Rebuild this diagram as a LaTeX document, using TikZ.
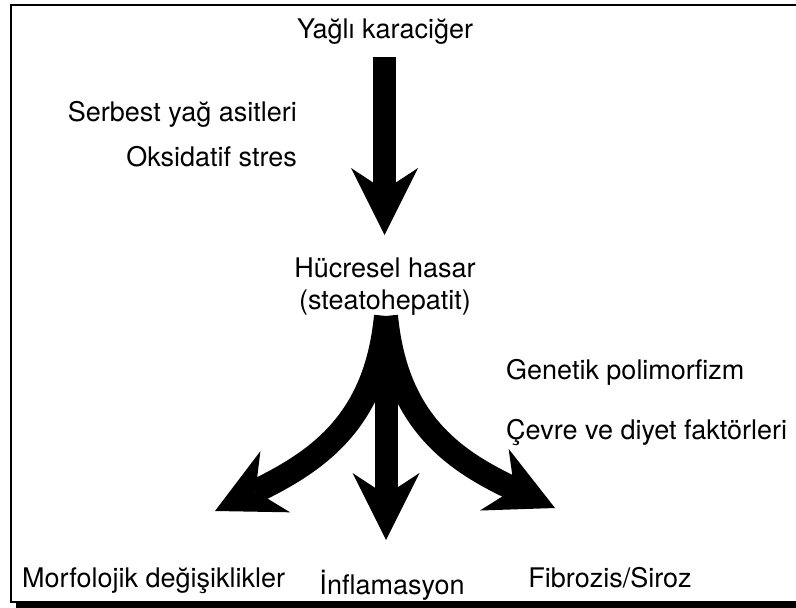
\documentclass[tikz,border=0pt]{standalone}
\usepackage{fontspec}
\setmainfont{TeX Gyre Heros}
\usetikzlibrary{arrows.meta}
\begin{document}
\begin{tikzpicture}[x=1pt,y=-1pt,
  lbl/.style={font=\fontsize{27}{32}\selectfont, inner sep=0pt},
  bigarrow/.style={line width=23pt, -{Stealth[length=67pt,width=67pt,inset=22pt,line width=0pt]}},
  curvearrow/.style={line width=24pt, -{Stealth[length=67pt,width=68pt,inset=22pt,line width=0pt]}},
  ]
\useasboundingbox (0,0) rectangle (796,608);
% frame with shadow
\fill[black] (16,10) rectangle (830,608);
\filldraw[fill=white, draw=black, line width=1.5pt] (11,5) rectangle (825,602);
% labels
\node[lbl, anchor=base] (top) at (385,38) {Yağlı karaciğer};
\node[lbl, anchor=base east] (ffa) at (297,121) {Serbest yağ asitleri};
\node[lbl, anchor=base east] (ox) at (297,166) {Oksidatif stres};
\node[lbl, anchor=base] (cell1) at (385,277) {Hücresel hasar};
\node[lbl, anchor=base] (cell2) at (385,309) {(steatohepatit)};
\node[lbl, anchor=base west] (gen) at (506,379) {Genetik polimorfizm};
\node[lbl, anchor=base west] (env) at (506,439) {Çevre ve diyet faktörleri};
\node[lbl, anchor=base west] (morph) at (22,587) {Morfolojik değişiklikler};
\node[lbl, anchor=base] (infl) at (392,594) {İnflamasyon};
\node[lbl, anchor=base] (fib) at (610,587) {Fibrozis/Siroz};
% arrow end points
\coordinate (a0) at (384.5,57);
\coordinate (a1) at (384.5,235);
\coordinate (c0) at (386,316);
\coordinate (lt) at (215,511);
\coordinate (rt) at (555,508);
\coordinate (m0) at (386,340);
\coordinate (mt) at (386,540);
% arrows
\draw[bigarrow] (a0) -- (a1);
\draw[bigarrow] (m0) -- (mt);
\draw[curvearrow] (c0) .. controls (376,420) and (320,460) .. (lt);
\draw[curvearrow] (c0) .. controls (396,420) and (452,460) .. (rt);
\end{tikzpicture}
\end{document}
